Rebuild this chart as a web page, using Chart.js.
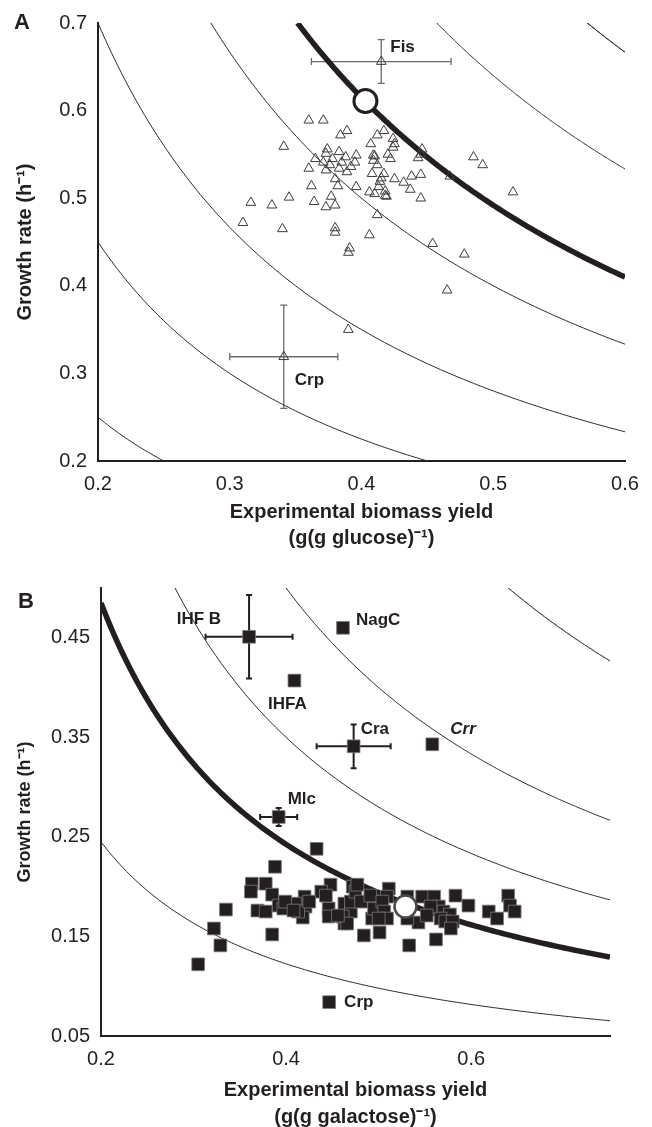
<!DOCTYPE html>
<html>
<head>
<meta charset="utf-8">
<script src="https://cdn.jsdelivr.net/npm/chart.js@4/dist/chart.umd.min.js"></script>
<style>
html,body{margin:0;padding:0;background:#fff;overflow:hidden}
#wrap{position:relative;width:652px;height:1127px;overflow:hidden;background:#fff}
canvas{position:absolute;left:0}
.pl{position:absolute;font:bold 22px "Liberation Sans",Arial,sans-serif;line-height:22px;color:#231f20}
</style>
</head>
<body>
<div id="wrap">
  <canvas id="cA" width="652" height="560" style="top:0"></canvas>
  <canvas id="cB" width="652" height="580" style="top:555px"></canvas>
  <div class="pl" style="left:14px;top:11px">A</div>
  <div class="pl" style="left:18px;top:590px">B</div>
</div>
<script>
// ================= Panel A : glucose =================
const xTicksA = [0.2, 0.3, 0.4, 0.5, 0.6];
const yTicksA = [0.2, 0.3, 0.4, 0.5, 0.6, 0.7];
const mutantYieldA = [
  0.360,0.371,0.341,0.384,0.389,0.374,0.373,0.383,0.388,0.396,
  0.395,0.371,0.376,0.385,0.383,0.373,0.389,0.360,0.380,0.362,
  0.382,0.396,0.316,0.332,0.345,0.364,0.377,0.373,0.380,0.310,
  0.340,0.380,0.380,0.406,0.391,0.390,0.412,0.407,0.412,0.417,
  0.424,0.424,0.425,0.409,0.410,0.412,0.422,0.420,0.446,0.443,
  0.445,0.485,0.492,0.408,0.417,0.415,0.425,0.432,0.438,0.445,
  0.467,0.437,0.413,0.418,0.410,0.419,0.445,0.515,0.454,0.478,
  0.465,0.390,0.409,0.406,0.418,0.414,0.378,0.392,0.365
];
const mutantRateA = [
  0.589,0.589,0.559,0.572,0.577,0.556,0.551,0.553,0.547,0.549,
  0.541,0.541,0.538,0.541,0.534,0.532,0.530,0.534,0.522,0.514,
  0.514,0.513,0.495,0.492,0.501,0.496,0.502,0.490,0.492,0.472,
  0.465,0.466,0.461,0.458,0.443,0.438,0.481,0.562,0.572,0.577,
  0.568,0.558,0.562,0.543,0.548,0.538,0.545,0.550,0.556,0.546,
  0.550,0.547,0.538,0.528,0.528,0.523,0.522,0.518,0.525,0.527,
  0.525,0.510,0.513,0.508,0.505,0.502,0.500,0.507,0.448,0.436,
  0.395,0.350,0.549,0.507,0.503,0.519,0.545,0.536,0.545
];
const namedA = ['Fis', 'Crp'];
const namedYieldA = [0.415, 0.341];
const namedRateA = [0.656, 0.319];
const namedYieldErrA = [0.053, 0.041];
const namedRateErrA = [0.025, 0.059];
const wildTypeYieldA = [0.403];
const wildTypeRateA = [0.611];
// constants (rate x yield) of the drawn iso-lines
const isolinesA = [0.05, 0.09, 0.14, 0.20, 0.32, 0.40];
const optimumA = [0.246];

// ================= Panel B : galactose =================
const xTicksB = [0.2, 0.4, 0.6];
const yTicksB = [0.05, 0.15, 0.25, 0.35, 0.45];
const mutantYieldB = [
  0.433,0.388,0.363,0.362,0.378,0.385,0.335,0.369,0.378,0.392,
  0.403,0.420,0.421,0.418,0.385,0.322,0.329,0.305,0.448,0.438,
  0.446,0.446,0.472,0.463,0.463,0.470,0.397,0.410,0.413,0.425,
  0.399,0.408,0.443,0.461,0.466,0.456,0.470,0.475,0.511,0.509,
  0.531,0.547,0.560,0.583,0.597,0.565,0.570,0.577,0.567,0.572,
  0.580,0.543,0.578,0.484,0.501,0.533,0.562,0.640,0.642,0.647,
  0.619,0.628,0.493,0.477,0.481,0.491,0.495,0.504,0.506,0.509,
  0.500,0.531,0.556,0.552
];
const mutantRateB = [
  0.238,0.220,0.203,0.195,0.203,0.192,0.177,0.176,0.175,0.181,
  0.181,0.190,0.180,0.169,0.152,0.158,0.141,0.122,0.202,0.195,
  0.178,0.170,0.200,0.183,0.163,0.175,0.178,0.183,0.175,0.185,
  0.185,0.176,0.191,0.170,0.163,0.171,0.185,0.195,0.198,0.190,
  0.190,0.190,0.190,0.191,0.181,0.180,0.175,0.172,0.168,0.165,
  0.165,0.164,0.158,0.151,0.154,0.141,0.147,0.191,0.181,0.175,
  0.175,0.168,0.168,0.202,0.185,0.191,0.178,0.185,0.175,0.168,
  0.168,0.168,0.180,0.171
];
const namedB = ['IHF B', 'IHFA', 'Mlc', 'NagC', 'Cra', 'Crr', 'Crp'];
const namedYieldB = [0.360, 0.409, 0.392, 0.4615, 0.473, 0.558, 0.4465];
const namedRateB = [0.451, 0.407, 0.270, 0.460, 0.341, 0.343, 0.084];
const namedYieldErrB = [0.047, 0, 0.020, 0, 0.040, 0, 0];
const namedRateErrB = [0.042, 0, 0.009, 0, 0.022, 0, 0];
const wildTypeYieldB = [0.529];
const wildTypeRateB = [0.180];
const isolinesB = [0.049, 0.14, 0.20, 0.32];
const optimumB = [0.097];

// ================= helpers =================
const FONT = '"Liberation Sans", Arial, Helvetica, sans-serif';
const INK = '#231f20';

function isoline(k, xmin, xmax, ymax) {
  const x0 = Math.max(xmin, k / ymax);
  const n = 160, pts = [];
  for (let i = 0; i <= n; i++) {
    const x = x0 + (xmax - x0) * i / n;
    pts.push({x: x, y: k / x});
  }
  return pts;
}
function zip(xs, ys) { return xs.map((v, i) => ({x: v, y: ys[i]})); }

function makeAnnot(names, xs, ys, exs, eys, barStyle, labelStyle) {
  return {
    id: 'annot',
    beforeDatasetsDraw(chart) {
      const ctx = chart.ctx, sx = chart.scales.x, sy = chart.scales.y;
      ctx.save();
      ctx.strokeStyle = barStyle.color;
      ctx.lineWidth = barStyle.width;
      const c = barStyle.cap;
      names.forEach((n, i) => {
        if (!exs[i] && !eys[i]) return;
        const px = sx.getPixelForValue(xs[i]), py = sy.getPixelForValue(ys[i]);
        const xl = sx.getPixelForValue(xs[i] - exs[i]), xr = sx.getPixelForValue(xs[i] + exs[i]);
        const yt = sy.getPixelForValue(ys[i] + eys[i]), yb = sy.getPixelForValue(ys[i] - eys[i]);
        ctx.beginPath();
        ctx.moveTo(xl, py); ctx.lineTo(xr, py);
        ctx.moveTo(xl, py - c); ctx.lineTo(xl, py + c);
        ctx.moveTo(xr, py - c); ctx.lineTo(xr, py + c);
        ctx.moveTo(px, yt); ctx.lineTo(px, yb);
        ctx.moveTo(px - c, yt); ctx.lineTo(px + c, yt);
        ctx.moveTo(px - c, yb); ctx.lineTo(px + c, yb);
        ctx.stroke();
      });
      ctx.restore();
    },
    afterDatasetsDraw(chart) {
      const ctx = chart.ctx, sx = chart.scales.x, sy = chart.scales.y;
      ctx.save();
      ctx.fillStyle = INK;
      ctx.textBaseline = 'middle';
      names.forEach((n, i) => {
        const s = labelStyle[n];
        const px = sx.getPixelForValue(xs[i]), py = sy.getPixelForValue(ys[i]);
        ctx.font = (s.italic ? 'italic ' : '') + 'bold 17px ' + FONT;
        ctx.textAlign = s.align;
        ctx.fillText(n, px + s.dx, py + s.dy);
      });
      ctx.restore();
    }
  };
}

function axes(o) {
  return {
    x: {
      type: 'linear', min: o.xmin, max: o.xmax,
      afterBuildTicks: s => { s.ticks = o.xticks.map(v => ({value: v})); },
      afterFit: s => { s.height = o.xh; },
      grid: {display: false, drawTicks: false},
      border: {display: true, color: INK, width: 2},
      ticks: {padding: 11, color: INK, autoSkip: false, maxRotation: 0,
        font: {family: FONT, size: 20}, callback: v => Number(v).toFixed(o.xdec)},
      title: {display: true, text: ['Experimental biomass yield', o.xunit], color: INK,
        font: {family: FONT, size: 20, weight: 'bold', lineHeight: o.tlh},
        padding: {top: 0, bottom: o.tpad}}
    },
    y: {
      type: 'linear', min: o.ymin, max: o.ymax,
      afterBuildTicks: s => { s.ticks = o.yticks.map(v => ({value: v})); },
      afterFit: s => { s.width = o.yw; },
      grid: {display: false, drawTicks: false},
      border: {display: true, color: INK, width: 2},
      ticks: {padding: 11, color: INK, autoSkip: false,
        font: {family: FONT, size: 20}, callback: v => Number(v).toFixed(o.ydec)},
      title: {display: true, text: 'Growth rate (h\u207B\u00B9)', color: INK,
        font: {family: FONT, size: o.ytsize, weight: 'bold', lineHeight: 1.2},
        padding: {top: o.ytpad, bottom: 0}}
    }
  };
}

function curveSets(ks, thick, xmin, xmax, ymax) {
  const out = [];
  thick.forEach(k => out.push({type: 'scatter', data: isoline(k, xmin, xmax, ymax), showLine: true,
    pointRadius: 0, borderColor: INK, borderWidth: 5.5, tension: 0, fill: false}));
  ks.forEach(k => out.push({type: 'scatter', data: isoline(k, xmin, xmax, ymax), showLine: true,
    pointRadius: 0, borderColor: '#2a2a2a', borderWidth: 1, tension: 0, fill: false}));
  return out;
}

const common = {responsive: false, animation: false, events: [],
  plugins: {legend: {display: false}, tooltip: {enabled: false}}};

// ---------- Chart A ----------
new Chart(document.getElementById('cA'), {
  type: 'scatter',
  data: {datasets: [
    {data: zip(wildTypeYieldA, wildTypeRateA), pointStyle: 'circle', pointRadius: 11.5,
      backgroundColor: '#ffffff', borderColor: INK, borderWidth: 3},
    {data: zip(mutantYieldA, mutantRateA).concat(zip(namedYieldA, namedRateA)), pointStyle: 'triangle',
      pointRadius: 5.6, backgroundColor: 'rgba(255,255,255,0)', borderColor: '#3c3c3c', borderWidth: 1}
  ].concat(curveSets(isolinesA, optimumA, 0.2, 0.6, 0.7))},
  options: Object.assign({}, common, {
    layout: {padding: {top: 20, right: 27, left: 0, bottom: 0}},
    scales: axes({xmin: 0.2, xmax: 0.6, ymin: 0.2, ymax: 0.7, xticks: xTicksA, yticks: yTicksA,
      xdec: 1, ydec: 1, xh: 99, yw: 98, xunit: '(g(g glucose)\u207B\u00B9)', tlh: 1.3, tpad: 9,
      ytsize: 20, ytpad: 13})
  }),
  plugins: [makeAnnot(namedA, namedYieldA, namedRateA, namedYieldErrA, namedRateErrA,
    {color: '#6a6a6a', width: 1.3, cap: 3.5},
    {'Fis': {dx: 9, dy: -14, align: 'left'}, 'Crp': {dx: 11, dy: 24, align: 'left'}})]
});

// ---------- Chart B ----------
new Chart(document.getElementById('cB'), {
  type: 'scatter',
  data: {datasets: [
    {data: zip(wildTypeYieldB, wildTypeRateB), pointStyle: 'circle', pointRadius: 11,
      backgroundColor: '#ffffff', borderColor: '#4a4a4a', borderWidth: 2.5},
    {data: zip(mutantYieldB, mutantRateB).concat(zip(namedYieldB, namedRateB)), pointStyle: 'rect',
      pointRadius: 9, backgroundColor: INK, borderColor: '#7a7a7a', borderWidth: 0.8}
  ].concat(curveSets(isolinesB, optimumB, 0.2, 0.75, 0.5))},
  options: Object.assign({}, common, {
    layout: {padding: {top: 33, right: 42, left: 0, bottom: 0}},
    scales: axes({xmin: 0.2, xmax: 0.75, ymin: 0.05, ymax: 0.5, xticks: xTicksB, yticks: yTicksB,
      xdec: 1, ydec: 2, xh: 99, yw: 101, xunit: '(g(g galactose)\u207B\u00B9)', tlh: 1.35, tpad: 4.5,
      ytsize: 18, ytpad: 14})
  }),
  plugins: [makeAnnot(namedB, namedYieldB, namedRateB, namedYieldErrB, namedRateErrB,
    {color: INK, width: 2, cap: 3},
    {'IHF B': {dx: -28, dy: -17, align: 'right'}, 'IHFA': {dx: -7, dy: 24, align: 'center'},
     'Mlc': {dx: 9, dy: -18, align: 'left'}, 'NagC': {dx: 13, dy: -8, align: 'left'},
     'Cra': {dx: 7, dy: -17, align: 'left'}, 'Crr': {dx: 18, dy: -15, align: 'left', italic: true},
     'Crp': {dx: 15, dy: 0, align: 'left'}})]
});
</script>
</body>
</html>
